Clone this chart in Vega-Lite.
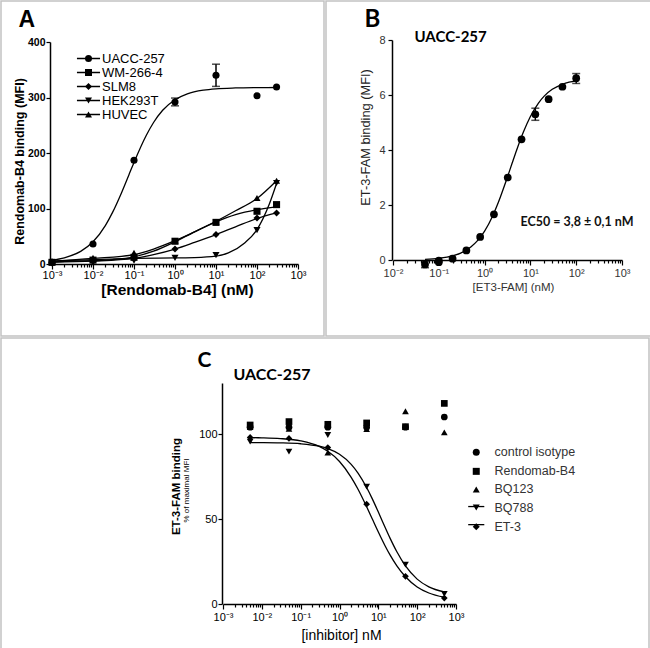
{
  "$schema": "https://vega.github.io/schema/vega-lite/v6.json",
  "background": "white",
  "padding": 0,
  "spacing": 0,
  "resolve": {"scale": {"shape": "independent", "color": "independent"}, "legend": {"shape": "independent", "color": "independent"}},
  "config": {
    "font": "Liberation Sans",
    "view": {"stroke": "#c2c2c2", "strokeWidth": 1.5, "fill": "white"},
    "concat": {"spacing": 0},
    "axis": {"grid": false, "domainColor": "black", "domainWidth": 1.5, "tickColor": "black", "tickWidth": 1.2, "labelFont": "Liberation Sans", "labelColor": "black", "titleFont": "Liberation Sans", "titleColor": "black", "labelOverlap": false, "labelBound": false, "labelFlush": false}
  },
  "datasets": {
    "a_pts": [
      {"series": "UACC-257", "x": 0.001, "y": 3}, {"series": "UACC-257", "x": 0.01, "y": 36}, {"series": "UACC-257", "x": 0.1, "y": 187}, {"series": "UACC-257", "x": 1, "y": 292}, {"series": "UACC-257", "x": 10, "y": 340}, {"series": "UACC-257", "x": 100, "y": 303}, {"series": "UACC-257", "x": 300, "y": 319},
      {"series": "WM-266-4", "x": 0.001, "y": 3}, {"series": "WM-266-4", "x": 0.01, "y": 7}, {"series": "WM-266-4", "x": 0.1, "y": 12}, {"series": "WM-266-4", "x": 1, "y": 41}, {"series": "WM-266-4", "x": 10, "y": 75}, {"series": "WM-266-4", "x": 100, "y": 95}, {"series": "WM-266-4", "x": 300, "y": 107},
      {"series": "SLM8", "x": 0.001, "y": 2}, {"series": "SLM8", "x": 0.01, "y": 5}, {"series": "SLM8", "x": 0.1, "y": 11}, {"series": "SLM8", "x": 1, "y": 27}, {"series": "SLM8", "x": 10, "y": 53}, {"series": "SLM8", "x": 100, "y": 83}, {"series": "SLM8", "x": 300, "y": 92},
      {"series": "HEK293T", "x": 0.001, "y": 2}, {"series": "HEK293T", "x": 0.01, "y": 3}, {"series": "HEK293T", "x": 0.1, "y": 6}, {"series": "HEK293T", "x": 1, "y": 11}, {"series": "HEK293T", "x": 10, "y": 16}, {"series": "HEK293T", "x": 100, "y": 61}, {"series": "HEK293T", "x": 300, "y": 146},
      {"series": "HUVEC", "x": 0.001, "y": 5}, {"series": "HUVEC", "x": 0.01, "y": 11}, {"series": "HUVEC", "x": 0.1, "y": 20}, {"series": "HUVEC", "x": 1, "y": 42}, {"series": "HUVEC", "x": 10, "y": 76}, {"series": "HUVEC", "x": 100, "y": 119}, {"series": "HUVEC", "x": 300, "y": 150}
    ],
    "a_fit": [
      {"series": "UACC-257", "x": 0.001, "y": 7.1}, {"series": "UACC-257", "x": 0.002, "y": 11.2}, {"series": "UACC-257", "x": 0.005, "y": 22.7}, {"series": "UACC-257", "x": 0.01, "y": 40}, {"series": "UACC-257", "x": 0.02, "y": 69.3}, {"series": "UACC-257", "x": 0.03, "y": 93}, {"series": "UACC-257", "x": 0.05, "y": 129}, {"series": "UACC-257", "x": 0.075, "y": 160.5}, {"series": "UACC-257", "x": 0.1, "y": 183}, {"series": "UACC-257", "x": 0.2, "y": 232}, {"series": "UACC-257", "x": 0.3, "y": 255}, {"series": "UACC-257", "x": 0.5, "y": 277}, {"series": "UACC-257", "x": 1, "y": 296}, {"series": "UACC-257", "x": 2, "y": 306.6}, {"series": "UACC-257", "x": 5, "y": 313.3}, {"series": "UACC-257", "x": 10, "y": 315.7}, {"series": "UACC-257", "x": 30, "y": 317.2}, {"series": "UACC-257", "x": 100, "y": 317.8}, {"series": "UACC-257", "x": 300, "y": 318},
      {"series": "WM-266-4", "x": 0.001, "y": 4}, {"series": "WM-266-4", "x": 0.01, "y": 6}, {"series": "WM-266-4", "x": 0.03, "y": 8}, {"series": "WM-266-4", "x": 0.1, "y": 13}, {"series": "WM-266-4", "x": 0.3, "y": 23}, {"series": "WM-266-4", "x": 1, "y": 40}, {"series": "WM-266-4", "x": 3, "y": 58}, {"series": "WM-266-4", "x": 10, "y": 76}, {"series": "WM-266-4", "x": 30, "y": 89}, {"series": "WM-266-4", "x": 100, "y": 98}, {"series": "WM-266-4", "x": 300, "y": 103},
      {"series": "SLM8", "x": 0.001, "y": 3}, {"series": "SLM8", "x": 0.01, "y": 5}, {"series": "SLM8", "x": 0.1, "y": 10}, {"series": "SLM8", "x": 0.3, "y": 17}, {"series": "SLM8", "x": 1, "y": 27}, {"series": "SLM8", "x": 3, "y": 39}, {"series": "SLM8", "x": 10, "y": 53}, {"series": "SLM8", "x": 30, "y": 67}, {"series": "SLM8", "x": 100, "y": 82}, {"series": "SLM8", "x": 300, "y": 92},
      {"series": "HEK293T", "x": 0.001, "y": 5}, {"series": "HEK293T", "x": 0.01, "y": 8}, {"series": "HEK293T", "x": 0.1, "y": 10}, {"series": "HEK293T", "x": 1, "y": 11}, {"series": "HEK293T", "x": 3, "y": 11.5}, {"series": "HEK293T", "x": 10, "y": 14}, {"series": "HEK293T", "x": 20, "y": 20}, {"series": "HEK293T", "x": 50, "y": 38}, {"series": "HEK293T", "x": 100, "y": 62}, {"series": "HEK293T", "x": 200, "y": 108}, {"series": "HEK293T", "x": 300, "y": 145},
      {"series": "HUVEC", "x": 0.001, "y": 5}, {"series": "HUVEC", "x": 0.01, "y": 10}, {"series": "HUVEC", "x": 0.1, "y": 17}, {"series": "HUVEC", "x": 0.3, "y": 27}, {"series": "HUVEC", "x": 1, "y": 42}, {"series": "HUVEC", "x": 3, "y": 58}, {"series": "HUVEC", "x": 10, "y": 77}, {"series": "HUVEC", "x": 30, "y": 96}, {"series": "HUVEC", "x": 100, "y": 118}, {"series": "HUVEC", "x": 300, "y": 150}
    ],
    "a_err": [
      {"series": "UACC-257", "x": 1, "lo": 285, "hi": 299},
      {"series": "UACC-257", "x": 10, "lo": 320, "hi": 360}
    ],
    "b_pts": [
      {"x": 0.05, "y": -0.16}, {"x": 0.1, "y": -0.08}, {"x": 0.1, "y": -0.02}, {"x": 0.2, "y": 0.05}, {"x": 0.4, "y": 0.35}, {"x": 0.8, "y": 0.84}, {"x": 1.6, "y": 1.66}, {"x": 3.2, "y": 3.0}, {"x": 6.4, "y": 4.39}, {"x": 12.8, "y": 5.3}, {"x": 25, "y": 5.85}, {"x": 50, "y": 6.3}, {"x": 100, "y": 6.61}
    ],
    "b_fit": [
      {"x": 0.05, "y": 0.025}, {"x": 0.1, "y": 0.062}, {"x": 0.2, "y": 0.15}, {"x": 0.3, "y": 0.251}, {"x": 0.5, "y": 0.471}, {"x": 0.7, "y": 0.702}, {"x": 1, "y": 1.05}, {"x": 1.5, "y": 1.602}, {"x": 2, "y": 2.098}, {"x": 3, "y": 2.911}, {"x": 4, "y": 3.526}, {"x": 5, "y": 3.994}, {"x": 7, "y": 4.644}, {"x": 10, "y": 5.218}, {"x": 15, "y": 5.707}, {"x": 20, "y": 5.959}, {"x": 30, "y": 6.206}, {"x": 50, "y": 6.39}, {"x": 70, "y": 6.464}, {"x": 100, "y": 6.51}
    ],
    "b_err": [
      {"x": 0.05, "lo": -0.28, "hi": -0.04},
      {"x": 12.8, "lo": 5.08, "hi": 5.52},
      {"x": 100, "lo": 6.42, "hi": 6.78}
    ],
    "c_pts": [
      {"series": "control isotype", "x": 0.005, "y": 104}, {"series": "control isotype", "x": 0.05, "y": 104}, {"series": "control isotype", "x": 0.5, "y": 104}, {"series": "control isotype", "x": 5, "y": 104}, {"series": "control isotype", "x": 50, "y": 104}, {"series": "control isotype", "x": 500, "y": 110},
      {"series": "Rendomab-B4", "x": 0.005, "y": 105.3}, {"series": "Rendomab-B4", "x": 0.05, "y": 107.3}, {"series": "Rendomab-B4", "x": 0.5, "y": 105.7}, {"series": "Rendomab-B4", "x": 5, "y": 106.5}, {"series": "Rendomab-B4", "x": 50, "y": 104.3}, {"series": "Rendomab-B4", "x": 500, "y": 118},
      {"series": "BQ123", "x": 0.005, "y": 104}, {"series": "BQ123", "x": 0.05, "y": 103}, {"series": "BQ123", "x": 0.5, "y": 89}, {"series": "BQ123", "x": 5, "y": 102.9}, {"series": "BQ123", "x": 50, "y": 113.4}, {"series": "BQ123", "x": 500, "y": 101},
      {"series": "BQ788", "x": 0.005, "y": 95.5}, {"series": "BQ788", "x": 0.05, "y": 89.6}, {"series": "BQ788", "x": 0.5, "y": 99.4}, {"series": "BQ788", "x": 5, "y": 69.1}, {"series": "BQ788", "x": 50, "y": 23.2}, {"series": "BQ788", "x": 500, "y": 5.9},
      {"series": "ET-3", "x": 0.005, "y": 98}, {"series": "ET-3", "x": 0.05, "y": 97.4}, {"series": "ET-3", "x": 0.5, "y": 92}, {"series": "ET-3", "x": 5, "y": 58.7}, {"series": "ET-3", "x": 50, "y": 16.3}, {"series": "ET-3", "x": 500, "y": 3.5}
    ],
    "c_fit": [
      {"series": "ET-3", "x": 0.005, "y": 97.86}, {"series": "ET-3", "x": 0.01, "y": 97.74}, {"series": "ET-3", "x": 0.03, "y": 97.3}, {"series": "ET-3", "x": 0.1, "y": 95.95}, {"series": "ET-3", "x": 0.3, "y": 92.68}, {"series": "ET-3", "x": 0.5, "y": 89.8}, {"series": "ET-3", "x": 1, "y": 83.8}, {"series": "ET-3", "x": 2, "y": 74.5}, {"series": "ET-3", "x": 3, "y": 67.5}, {"series": "ET-3", "x": 5, "y": 57.2}, {"series": "ET-3", "x": 7, "y": 50}, {"series": "ET-3", "x": 10, "y": 42.36}, {"series": "ET-3", "x": 15, "y": 34.15}, {"series": "ET-3", "x": 20, "y": 28.87}, {"series": "ET-3", "x": 30, "y": 22.4}, {"series": "ET-3", "x": 50, "y": 16}, {"series": "ET-3", "x": 100, "y": 10.03}, {"series": "ET-3", "x": 200, "y": 6.48}, {"series": "ET-3", "x": 500, "y": 4},
      {"series": "BQ788", "x": 0.005, "y": 94.96}, {"series": "BQ788", "x": 0.01, "y": 94.93}, {"series": "BQ788", "x": 0.03, "y": 94.78}, {"series": "BQ788", "x": 0.1, "y": 94.26}, {"series": "BQ788", "x": 0.3, "y": 92.8}, {"series": "BQ788", "x": 0.5, "y": 91.4}, {"series": "BQ788", "x": 1, "y": 88.08}, {"series": "BQ788", "x": 2, "y": 82.14}, {"series": "BQ788", "x": 3, "y": 77}, {"series": "BQ788", "x": 5, "y": 68.5}, {"series": "BQ788", "x": 7, "y": 61.84}, {"series": "BQ788", "x": 10, "y": 54.09}, {"series": "BQ788", "x": 15, "y": 45}, {"series": "BQ788", "x": 20, "y": 38.75}, {"series": "BQ788", "x": 30, "y": 30.71}, {"series": "BQ788", "x": 50, "y": 22.4}, {"series": "BQ788", "x": 100, "y": 14.64}, {"series": "BQ788", "x": 200, "y": 10.09}, {"series": "BQ788", "x": 500, "y": 7.11}
    ]
  },
  "vconcat": [
    {
      "spacing": 0,
      "resolve": {"scale": {"shape": "independent", "color": "independent"}, "legend": {"shape": "independent", "color": "independent"}},
      "hconcat": [
        {
          "width": 323,
          "height": 335,
          "resolve": {"axis": {"x": "independent", "y": "independent"}},
          "encoding": {
            "x": {"field": "x", "type": "quantitative", "axis": null},
            "y": {"field": "y", "type": "quantitative", "axis": null}
          },
          "layer": [
            {"data": {"name": "a_fit"}, "mark": {"type": "line", "strokeWidth": 1.3, "interpolate": "monotone"},
              "encoding": {
                "x": {"field": "x", "type": "quantitative",
                  "scale": {"type": "log", "domain": [0.001, 1000], "range": [51, 297], "nice": false},
                  "axis": {"values": [0.001,0.002,0.003,0.004,0.005,0.006,0.007,0.008,0.009,0.01,0.02,0.03,0.04,0.05,0.06,0.07,0.08,0.09,0.1,0.2,0.3,0.4,0.5,0.6,0.7,0.8,0.9,1,2,3,4,5,6,7,8,9,10,20,30,40,50,60,70,80,90,100,200,300,400,500,600,700,800,900,1000],
                    "orient": "bottom",
                    "labelExpr": "abs(log(datum.value)/LN10 - round(log(datum.value)/LN10)) < 0.01 ? '10' + ['⁻³','⁻²','⁻¹','⁰','¹','²','³'][round(log(datum.value)/LN10) + 3] : ''",
                    "tickSize": {"condition": {"test": "abs(log(datum.value)/LN10 - round(log(datum.value)/LN10)) < 0.01", "value": 5}, "value": 3},
                    "offset": -72, "labelFontSize": 11, "labelPadding": 0,
                    "title": "[Rendomab-B4] (nM)", "titleFontSize": 15.5, "titleFontWeight": "bold", "titleX": 176, "titleY": 25, "titleAlign": "center", "titleBaseline": "middle"}},
                "y": {"field": "y", "type": "quantitative",
                  "scale": {"domain": [0, 400], "range": [263, 41], "nice": false, "zero": false},
                  "axis": {"values": [0, 100, 200, 300, 400], "orient": "left", "offset": -49, "tickSize": 4, "labelFontSize": 10.5, "labelFontWeight": "bold", "labelPadding": 1,
                    "title": "Rendomab-B4 binding (MFI)", "titleFontSize": 12.5, "titleFontWeight": "bold", "titleX": -31, "titleY": 160, "titleAngle": 270, "titleAlign": "center", "titleBaseline": "middle"}},
                "color": {"field": "series", "type": "nominal",
                  "scale": {"domain": ["WM-266-4", "UACC-257", "SLM8", "HEK293T", "HUVEC"], "range": ["black", "black", "black", "black", "black"]},
                  "legend": {"title": null, "orient": "none", "legendX": 81, "legendY": 51, "padding": 0, "symbolType": "M-3.3,0H3.3", "symbolSize": 49, "symbolStrokeWidth": 1.5, "labelFont": "Liberation Sans", "labelFontSize": 13, "labelOffset": 7, "rowPadding": 0, "labelExpr": "''", "labelColor": "transparent"}}
              }},
            {"data": {"name": "a_err"}, "mark": {"type": "rule", "color": "black", "strokeWidth": 1.5}, "encoding": {"y": {"field": "lo", "type": "quantitative", "axis": null}, "y2": {"field": "hi"}}},
            {"data": {"name": "a_err"}, "mark": {"type": "tick", "orient": "horizontal", "size": 8, "thickness": 1.5, "color": "black"}, "encoding": {"y": {"field": "hi", "type": "quantitative", "axis": null}}},
            {"data": {"name": "a_err"}, "mark": {"type": "tick", "orient": "horizontal", "size": 8, "thickness": 1.5, "color": "black"}, "encoding": {"y": {"field": "lo", "type": "quantitative", "axis": null}}},
            {"data": {"name": "a_pts"}, "mark": {"type": "point", "filled": true, "color": "black", "size": 50, "opacity": 1},
              "encoding": {
                "x": {"field": "x", "type": "quantitative",
                  "axis": {"orient": "top", "domain": false, "ticks": false, "labels": false, "offset": 0, "minExtent": 0, "maxExtent": 0,
                    "title": "A", "titleFont": "Liberation Sans", "titleFontSize": 23, "titleFontWeight": "bold", "titleColor": "black", "titleX": 17, "titleY": 25, "titleAlign": "left", "titleBaseline": "alphabetic", "titleAngle": 0}},
                "shape": {"field": "series", "type": "nominal",
                  "scale": {"domain": ["UACC-257", "WM-266-4", "SLM8", "HEK293T", "HUVEC"], "range": ["circle", "square", "diamond", "triangle-down", "triangle-up"]},
                  "legend": {"title": null, "orient": "none", "legendX": 81, "legendY": 51, "padding": 0, "symbolSize": 49, "labelFont": "Liberation Sans", "labelFontSize": 13, "labelOffset": 7, "rowPadding": 0,
                    "encode": {"labels": {"update": {"fill": {"signal": "datum.value === 'HEK293T' || datum.value === 'HUVEC' ? '#111111' : '#707070'"}}}}}}
              }}
          ]
        },
        {
          "width": 325,
          "height": 335,
          "resolve": {"axis": {"x": "independent", "y": "independent"}},
          "layer": [
            {"data": {"name": "b_fit"}, "mark": {"type": "line", "color": "black", "strokeWidth": 1.3, "interpolate": "monotone"},
              "encoding": {
                "x": {"field": "x", "type": "quantitative",
                  "scale": {"type": "log", "domain": [0.01, 1000], "range": [67, 296], "nice": false},
                  "axis": {"values": [0.01,0.02,0.03,0.04,0.05,0.06,0.07,0.08,0.09,0.1,0.2,0.3,0.4,0.5,0.6,0.7,0.8,0.9,1,2,3,4,5,6,7,8,9,10,20,30,40,50,60,70,80,90,100,200,300,400,500,600,700,800,900,1000],
                    "orient": "bottom",
                    "labelExpr": "abs(log(datum.value)/LN10 - round(log(datum.value)/LN10)) < 0.01 ? '10' + ['⁻³','⁻²','⁻¹','⁰','¹','²','³'][round(log(datum.value)/LN10) + 3] : ''",
                    "tickSize": {"condition": {"test": "abs(log(datum.value)/LN10 - round(log(datum.value)/LN10)) < 0.01", "value": 5}, "value": 3},
                    "offset": -76, "labelFontSize": 11, "labelColor": "#333333", "labelPadding": 2,
                    "title": "[ET3-FAM] (nM)", "titleFontSize": 11.5, "titleFontWeight": "normal", "titleColor": "#333333", "titleX": 187, "titleY": 27, "titleAlign": "center", "titleBaseline": "middle"}},
                "y": {"field": "y", "type": "quantitative",
                  "scale": {"domain": [0, 8], "range": [259, 39], "nice": false, "zero": false},
                  "axis": {"values": [0, 2, 4, 6, 8], "orient": "left", "offset": -66, "tickSize": 4, "labelFontSize": 11, "labelColor": "#333333", "labelPadding": 3,
                    "title": "ET-3-FAM binding (MFI)", "titleFontSize": 12.8, "titleFontWeight": "normal", "titleColor": "#222222", "titleX": -27, "titleY": 136, "titleAngle": 270, "titleAlign": "center", "titleBaseline": "middle"}}
              }},
            {"data": {"name": "b_err"}, "mark": {"type": "rule", "color": "black", "strokeWidth": 1.5},
              "encoding": {
                "x": {"field": "x", "type": "quantitative",
                  "axis": {"orient": "top", "domain": false, "ticks": false, "labels": false, "offset": 0, "minExtent": 0, "maxExtent": 0,
                    "title": "B", "titleFont": "Lato", "titleFontSize": 24, "titleFontWeight": "bold", "titleColor": "black", "titleX": 38, "titleY": 25, "titleAlign": "left", "titleBaseline": "alphabetic", "titleAngle": 0}},
                "y": {"field": "lo", "type": "quantitative", "axis": null}, "y2": {"field": "hi"}}},
            {"data": {"name": "b_err"}, "mark": {"type": "tick", "orient": "horizontal", "size": 8, "thickness": 1.5, "color": "black"},
              "encoding": {"x": {"field": "x", "type": "quantitative", "axis": null}, "y": {"field": "hi", "type": "quantitative", "axis": null}}},
            {"data": {"name": "b_err"}, "mark": {"type": "tick", "orient": "horizontal", "size": 8, "thickness": 1.5, "color": "black"},
              "encoding": {"x": {"field": "x", "type": "quantitative", "axis": null}, "y": {"field": "lo", "type": "quantitative", "axis": null}}},
            {"data": {"name": "b_pts"}, "mark": {"type": "point", "shape": "circle", "filled": true, "color": "black", "size": 60, "opacity": 1},
              "encoding": {
                "x": {"field": "x", "type": "quantitative",
                  "axis": {"orient": "top", "domain": false, "ticks": false, "labels": false, "offset": 0, "minExtent": 0, "maxExtent": 0,
                    "title": "UACC-257", "titleFont": "Lato", "titleFontSize": 15, "titleFontWeight": "bold", "titleColor": "black", "titleX": 88, "titleY": 40, "titleAlign": "left", "titleBaseline": "alphabetic", "titleAngle": 0}},
                "y": {"field": "y", "type": "quantitative",
                  "axis": {"orient": "right", "domain": false, "ticks": false, "labels": false, "offset": 0, "minExtent": 0, "maxExtent": 0,
                    "title": "EC50 = 3,8 ± 0,1 nM", "titleFont": "Lato", "titleFontSize": 12.5, "titleFontWeight": "bold", "titleColor": "#111111", "titleX": -131, "titleY": 224.5, "titleAlign": "left", "titleBaseline": "alphabetic", "titleAngle": 0}}
              }}
          ]
        }
      ]
    },
    {
      "width": 648,
      "height": 312,
      "resolve": {"axis": {"x": "independent", "y": "independent"}},
      "layer": [
        {"data": {"name": "c_fit"}, "mark": {"type": "line", "strokeWidth": 1.3, "interpolate": "monotone"},
          "encoding": {
            "x": {"field": "x", "type": "quantitative",
              "scale": {"type": "log", "domain": [0.001, 1000], "range": [222, 455], "nice": false},
              "axis": {"values": [0.001,0.002,0.003,0.004,0.005,0.006,0.007,0.008,0.009,0.01,0.02,0.03,0.04,0.05,0.06,0.07,0.08,0.09,0.1,0.2,0.3,0.4,0.5,0.6,0.7,0.8,0.9,1,2,3,4,5,6,7,8,9,10,20,30,40,50,60,70,80,90,100,200,300,400,500,600,700,800,900,1000],
                "orient": "bottom",
                "labelExpr": "abs(log(datum.value)/LN10 - round(log(datum.value)/LN10)) < 0.01 ? '10' + ['⁻³','⁻²','⁻¹','⁰','¹','²','³'][round(log(datum.value)/LN10) + 3] : ''",
                "tickSize": {"condition": {"test": "abs(log(datum.value)/LN10 - round(log(datum.value)/LN10)) < 0.01", "value": 5}, "value": 3},
                "offset": -46, "labelFontSize": 11, "labelPadding": 2,
                "title": "[inhibitor] nM", "titleFontSize": 14, "titleFontWeight": "normal", "titleX": 340, "titleY": 31, "titleAlign": "center", "titleBaseline": "middle"}},
            "y": {"field": "y", "type": "quantitative",
              "scale": {"domain": [0, 130], "range": [266, 45], "nice": false, "zero": false},
              "axis": {"values": [0, 50, 100], "orient": "left", "offset": -221, "tickSize": 4, "labelFontSize": 11, "labelPadding": 1,
                "title": "ET-3-FAM binding", "titleFontSize": 11.5, "titleFontWeight": "bold", "titleX": -46, "titleY": 148, "titleAngle": 270, "titleAlign": "center", "titleBaseline": "middle"}},
            "color": {"field": "series", "type": "nominal",
              "scale": {"domain": ["Rendomab-B4", "control isotype", "BQ123", "BQ788", "ET-3"], "range": ["transparent", "transparent", "transparent", "black", "black"]},
              "legend": {"title": null, "orient": "none", "legendX": 469, "legendY": 108, "padding": 0, "symbolType": "M-2.3,0H2.3", "symbolSize": 49, "symbolStrokeWidth": 1.3, "labelFont": "Liberation Sans", "labelFontSize": 12.5, "labelOffset": 12, "rowPadding": 5.1, "labelExpr": "''", "labelColor": "transparent"}}
          }},
        {"data": {"name": "c_pts"}, "transform": [{"filter": "datum.series === 'control isotype' || datum.series === 'Rendomab-B4' || datum.series === 'BQ123'"}],
          "mark": {"type": "point", "filled": true, "color": "black", "size": 45, "opacity": 1},
          "encoding": {
            "x": {"field": "x", "type": "quantitative",
              "axis": {"orient": "top", "domain": false, "ticks": false, "labels": false, "offset": 0, "minExtent": 0, "maxExtent": 0,
                "title": "C", "titleFont": "Lato", "titleFontSize": 21, "titleFontWeight": "bold", "titleColor": "black", "titleX": 196, "titleY": 28.3, "titleAlign": "left", "titleBaseline": "alphabetic", "titleAngle": 0}},
            "y": {"field": "y", "type": "quantitative", "axis": null},
            "shape": {"field": "series", "type": "nominal",
              "scale": {"domain": ["control isotype", "Rendomab-B4", "BQ123", "BQ788", "ET-3"], "range": ["circle", "square", "triangle-up", "triangle-down", "diamond"]},
              "legend": {"title": null, "orient": "none", "legendX": 469, "legendY": 108, "padding": 0, "symbolSize": 49, "labelFont": "Liberation Sans", "labelFontSize": 12.5, "labelOffset": 12, "rowPadding": 5.1, "labelColor": "#333333"}}
          }},
        {"data": {"name": "c_pts"}, "transform": [{"filter": "datum.series === 'BQ788' || datum.series === 'ET-3'"}],
          "mark": {"type": "point", "filled": true, "color": "black", "size": 45, "opacity": 1},
          "encoding": {
            "x": {"field": "x", "type": "quantitative",
              "axis": {"orient": "top", "domain": false, "ticks": false, "labels": false, "offset": 0, "minExtent": 0, "maxExtent": 0,
                "title": "UACC-257", "titleFont": "Lato", "titleFontSize": 16, "titleFontWeight": "bold", "titleColor": "black", "titleX": 232, "titleY": 41, "titleAlign": "left", "titleBaseline": "alphabetic", "titleAngle": 0}},
            "y": {"field": "y", "type": "quantitative",
              "axis": {"orient": "right", "domain": false, "ticks": false, "labels": false, "offset": 0, "minExtent": 0, "maxExtent": 0,
                "title": "% of maximal MFI", "titleFont": "Liberation Sans", "titleFontSize": 8, "titleFontWeight": "normal", "titleColor": "black", "titleX": -463, "titleY": 152, "titleAlign": "center", "titleBaseline": "middle", "titleAngle": 270}},
            "shape": {"field": "series", "type": "nominal",
              "scale": {"domain": ["control isotype", "Rendomab-B4", "BQ123", "BQ788", "ET-3"], "range": ["circle", "square", "triangle-up", "triangle-down", "diamond"]},
              "legend": {"title": null, "orient": "none", "legendX": 469, "legendY": 108, "padding": 0, "symbolSize": 49, "labelFont": "Liberation Sans", "labelFontSize": 12.5, "labelOffset": 12, "rowPadding": 5.1, "labelColor": "#333333"}}
          }}
      ]
    }
  ]
}
